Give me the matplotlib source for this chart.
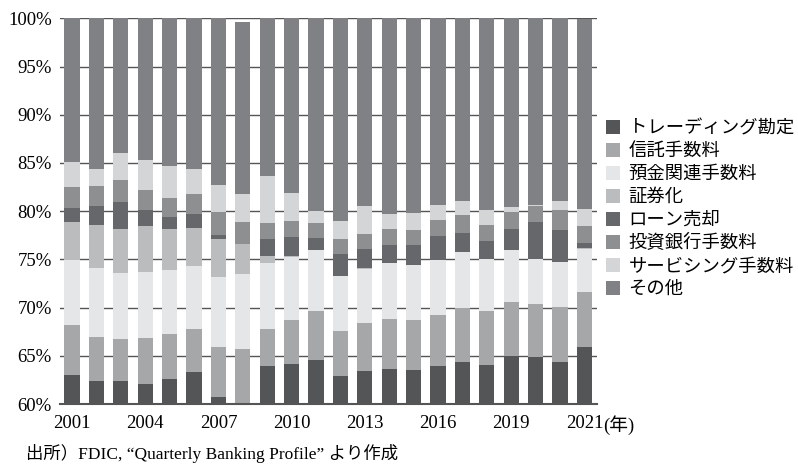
import matplotlib.pyplot as plt
import numpy as np

plt.rcParams['font.family'] = ['Liberation Serif', 'Noto Sans CJK JP']

# Share of non-interest income by item (%, stacked from the bottom)
series_names = ['トレーディング勘定', '信託手数料', '預金関連手数料', '証券化',
                'ローン売却', '投資銀行手数料', 'サービシング手数料', 'その他']

trading = [63.0, 62.4, 62.4, 62.1, 62.6, 63.3, 60.7, 59.8, 63.9, 64.2, 64.6,
           62.9, 63.4, 63.6, 63.5, 63.9, 64.4, 64.0, 65.0, 64.9, 64.4, 65.9]
trust = [5.2, 4.6, 4.3, 4.7, 4.7, 4.5, 5.2, 5.9, 3.9, 4.5, 5.0,
         4.7, 5.0, 5.2, 5.2, 5.3, 5.6, 5.6, 5.6, 5.5, 5.7, 5.7]
deposit = [6.7, 7.1, 6.9, 6.9, 6.6, 6.5, 7.3, 7.8, 6.8, 6.5, 6.4,
           5.7, 5.6, 5.8, 5.7, 5.7, 5.8, 5.4, 5.4, 4.6, 4.6, 4.5]
securitization = [4.0, 4.5, 4.5, 4.8, 4.3, 4.0, 3.9, 3.1, 0.7, 0.1, 0.0,
                  0.0, 0.1, 0.0, 0.0, 0.0, 0.0, 0.0, 0.0, 0.0, 0.0, 0.1]
loan_sales = [1.4, 1.9, 2.9, 1.6, 1.2, 1.4, 0.4, 0.0, 1.8, 2.0, 1.2,
              2.3, 2.0, 1.9, 2.1, 2.5, 1.9, 1.9, 2.2, 3.9, 3.3, 0.5]
inv_banking = [2.2, 2.1, 2.2, 2.1, 2.0, 2.1, 2.4, 2.3, 1.7, 1.7, 1.6,
               1.5, 1.5, 1.6, 1.5, 1.7, 1.9, 1.7, 1.7, 1.6, 2.1, 1.8]
servicing = [2.6, 1.8, 2.8, 3.1, 3.3, 2.6, 2.8, 2.9, 4.8, 2.9, 1.2,
             1.9, 2.9, 1.6, 1.8, 1.5, 1.5, 1.5, 0.5, 0.1, 1.0, 1.7]
other = [14.9, 15.6, 14.0, 14.7, 15.3, 15.6, 17.3, 17.8, 16.4, 18.1, 20.0,
         21.0, 19.5, 20.3, 20.2, 19.4, 18.9, 19.9, 19.6, 19.4, 19.0, 19.7]

tick_pos = [0, 3, 6, 9, 12, 15, 18, 21]
tick_labels = ['2001', '2004', '2007', '2010', '2013', '2016', '2019', '2021']
y_ticks = [60, 65, 70, 75, 80, 85, 90, 95, 100]

colors = ['#545557', '#a6a7a9', '#e5e6e7', '#bbbcbe',
          '#66676a', '#8e8f91', '#d4d5d6', '#808184']

data = [trading, trust, deposit, securitization, loan_sales,
        inv_banking, servicing, other]

fig = plt.figure(figsize=(7.98, 4.67), dpi=100)
ax = fig.add_axes([0.0752, 0.1349, 0.6728, 0.8259])

x = np.arange(len(trading))
bottom = np.zeros(len(trading))
for vals, color, name in zip(data, colors, series_names):
    vals = np.array(vals)
    ax.bar(x, vals, bottom=bottom, width=0.62, color=color, label=name,
           linewidth=0)
    bottom += vals

ax.set_xlim(-0.49, 21.51)
ax.set_ylim(60, 100)
ax.set_yticks(y_ticks)
ax.set_yticklabels([f'{v}%' for v in y_ticks], fontsize=13.5)
ax.set_xticks(tick_pos)
ax.set_xticklabels(tick_labels, fontsize=13.5)
ax.tick_params(axis='both', length=0)
ax.tick_params(axis='y', pad=6)
ax.tick_params(axis='x', pad=8)

ax.set_axisbelow(True)
ax.yaxis.grid(True, color='#555555', linewidth=1.0)
ax.axhline(100, color='#333333', linewidth=1.2, zorder=0)
for side in ['left', 'right', 'top']:
    ax.spines[side].set_visible(False)
ax.spines['bottom'].set_color('#555555')
ax.spines['bottom'].set_linewidth(1.5)

# unit label next to the last year
ax.annotate('(年)', xy=(21, 0), xycoords=('data', 'axes fraction'),
            xytext=(19, -8 * 100 / 72), textcoords='offset pixels',
            ha='left', va='top', fontsize=13.5)

ax.legend(loc='upper left', bbox_to_anchor=(0.759, 0.743),
          bbox_transform=fig.transFigure, frameon=False, fontsize=13.2,
          handlelength=0.8, handleheight=0.8, handletextpad=0.45,
          labelspacing=0.3, borderpad=0, borderaxespad=0)

fig.text(0.033, 0.028, '出所）FDIC, “Quarterly Banking Profile” より作成',
         fontsize=12.5, ha='left', va='center')

fig.savefig('out.png', dpi=100)
